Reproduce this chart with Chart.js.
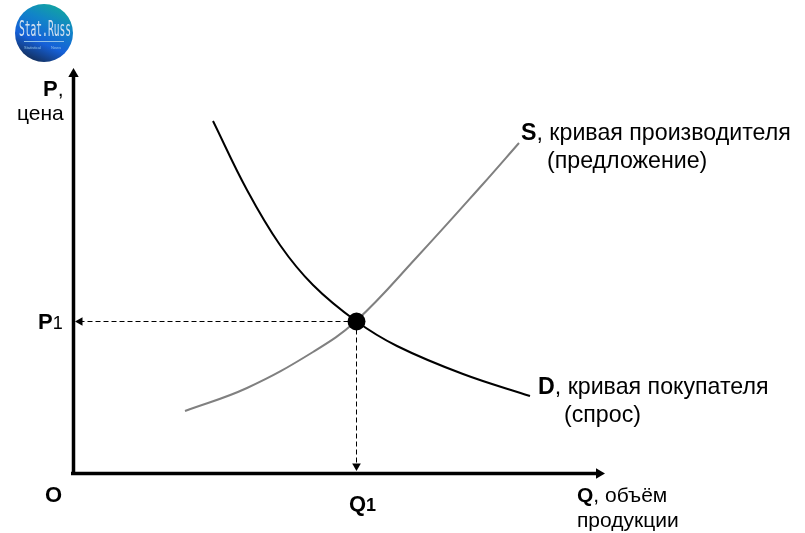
<!DOCTYPE html>
<html>
<head>
<meta charset="utf-8">
<style>
  html, body { margin: 0; padding: 0; background: #fff; }
  canvas { display: block; }
</style>
<script src="https://cdn.jsdelivr.net/npm/chart.js@4"></script>
</head>
<body>
<canvas id="grafico" width="805" height="533"></canvas>
<script>
var demandQ = [140, 174, 207, 240, 283, 324, 390, 457];
var demandP = [352, 283, 228, 188, 152, 127, 99, 77];
var supplyQ = [112, 174, 240, 283, 344, 410, 446];
var supplyP = [62, 85, 121, 152, 216, 289, 330];
var equilibriumQ = 283.5;
var equilibriumP = 151.5;
var axisQMax = 532;
var axisPMax = 405;

var labelFont = '"Liberation Sans", Arial, sans-serif';

function pts(xs, ys) {
  return xs.map(function(x, i) { return { x: x, y: ys[i] }; });
}

// Text is placed at pixel positions, each run: [text, bold, size]
var textLabels = [
  { x: 43, y: 96, runs: [["P", true, 22], [",", false, 21]] },
  { x: 17, y: 120, runs: [["цена", false, 21]] },
  { x: 38, y: 329, runs: [["P", true, 22], ["1", false, 18]] },
  { x: 45, y: 502, runs: [["O", true, 22]] },
  { x: 349, y: 511, runs: [["Q", true, 22], ["1", true, 18]] },
  { x: 577, y: 502, runs: [["Q", true, 21], [", объём", false, 21]] },
  { x: 577, y: 527, runs: [["продукции", false, 21]] },
  { x: 521, y: 140, runs: [["S", true, 23.2], [", кривая производителя", false, 23.2]] },
  { x: 547, y: 168, runs: [["(предложение)", false, 23.2]] },
  { x: 538, y: 394, runs: [["D", true, 23.2], [", кривая покупателя", false, 23.2]] },
  { x: 564, y: 422, runs: [["(спрос)", false, 23.2]] }
];

var textPlugin = {
  id: "textPlugin",
  afterDraw: function(chart) {
    var ctx = chart.ctx;
    ctx.save();
    ctx.fillStyle = "#000";
    ctx.textBaseline = "alphabetic";
    textLabels.forEach(function(l) {
      var x = l.x;
      l.runs.forEach(function(r) {
        ctx.font = (r[1] ? "bold " : "") + r[2] + "px " + labelFont;
        ctx.fillText(r[0], x, l.y);
        x += ctx.measureText(r[0]).width;
      });
    });
    ctx.restore();
  }
};

// Round logo in the corner
var logoPlugin = {
  id: "logoPlugin",
  afterDraw: function(chart) {
    var ctx = chart.ctx;
    var cx = 44, cy = 33, r = 29;
    ctx.save();
    var g = ctx.createLinearGradient(56, 4, 30, 62);
    g.addColorStop(0, "#12a5a0");
    g.addColorStop(0.3, "#1184c8");
    g.addColorStop(0.65, "#1560d8");
    g.addColorStop(1, "#132a50");
    ctx.fillStyle = g;
    ctx.beginPath();
    ctx.arc(cx, cy, r, 0, Math.PI * 2);
    ctx.fill();
    ctx.fillStyle = "#d4e2f0";
    ctx.save();
    ctx.translate(19, 36);
    ctx.scale(1, 2.3);
    ctx.font = '9.6px "DejaVu Sans Mono", monospace';
    ctx.fillText("Stat.Russ", 0, 0);
    ctx.restore();
    ctx.fillStyle = "#8fc0e8";
    ctx.fillRect(24, 41, 40, 1);
    ctx.font = "4px " + labelFont;
    ctx.fillText("Statistical", 24, 49);
    ctx.fillText("News", 51, 49);
    ctx.restore();
  }
};

new Chart(document.getElementById("grafico"), {
  type: "scatter",
  data: {
    datasets: [
      {
        label: "D",
        data: pts(demandQ, demandP),
        showLine: true,
        borderColor: "#000",
        borderWidth: 2,
        tension: 0.4,
        pointRadius: 0,
        order: 3
      },
      {
        label: "S",
        data: pts(supplyQ, supplyP),
        showLine: true,
        borderColor: "#808080",
        borderWidth: 2,
        tension: 0.4,
        pointRadius: 0,
        order: 4
      },
      {
        label: "P1",
        data: pts([equilibriumQ, 7], [equilibriumP, equilibriumP]),
        showLine: true,
        borderColor: "#000",
        borderWidth: 1,
        borderDash: [5, 3],
        pointStyle: "triangle",
        pointRotation: -90,
        pointRadius: [0, 5],
        backgroundColor: "#000",
        pointBorderWidth: 0,
        order: 2
      },
      {
        label: "Q1",
        data: pts([equilibriumQ, equilibriumQ], [equilibriumP, 7]),
        showLine: true,
        borderColor: "#000",
        borderWidth: 1,
        borderDash: [5, 3],
        pointStyle: "triangle",
        pointRotation: 180,
        pointRadius: [0, 5],
        backgroundColor: "#000",
        pointBorderWidth: 0,
        order: 2
      },
      {
        label: "Equilibrium",
        data: pts([equilibriumQ], [equilibriumP]),
        pointRadius: 9,
        backgroundColor: "#000",
        pointBorderWidth: 0,
        order: 1
      },
      {
        label: "Q axis",
        data: pts([-2, axisQMax - 6], [-0.5, -0.5]),
        showLine: true,
        borderColor: "#000",
        borderWidth: 3.5,
        pointStyle: "triangle",
        pointRotation: 90,
        pointRadius: [0, 6],
        backgroundColor: "#000",
        pointBorderWidth: 0,
        order: 0
      },
      {
        label: "P axis",
        data: pts([0.5, 0.5], [-2, axisPMax - 6]),
        showLine: true,
        borderColor: "#000",
        borderWidth: 3.5,
        pointStyle: "triangle",
        pointRotation: 0,
        pointRadius: [0, 6],
        backgroundColor: "#000",
        pointBorderWidth: 0,
        order: 0
      }
    ]
  },
  options: {
    responsive: false,
    animation: false,
    clip: false,
    layout: { padding: { left: 73, right: 200, top: 68, bottom: 60 } },
    plugins: { legend: { display: false }, tooltip: { enabled: false } },
    scales: {
      x: { type: "linear", min: 0, max: axisQMax, display: false },
      y: { type: "linear", min: 0, max: axisPMax, display: false }
    }
  },
  plugins: [textPlugin, logoPlugin]
});
</script>
</body>
</html>
